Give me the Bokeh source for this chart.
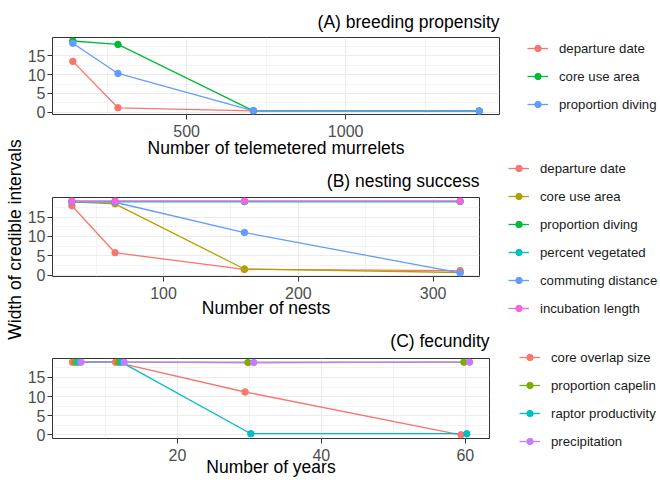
import math
from bokeh.plotting import figure
from bokeh.models import Range1d, FixedTicker, Legend, LegendItem, Label, ColumnDataSource
from bokeh.layouts import column, row
from bokeh.transform import dodge
from bokeh.embed import file_html
from bokeh.resources import INLINE

FONT = "Liberation Sans"

# ---------------- data ----------------
# (A) breeding propensity
a_x = [142, 284, 710, 1420]
a_names = ["departure date", "core use area", "proportion diving"]
a_departure_date = [13.5, 1.2, 0.4, 0.35]
a_core_use_area = [18.9, 18.0, 0.4, 0.35]
a_proportion_diving = [18.3, 10.3, 0.4, 0.35]
a_colors = ["#F8766D", "#00BA38", "#619CFF"]
a_xticks = [500, 1000]
a_xminor = [250, 750, 1250]

# (B) nesting success
b_x = [32, 64, 160, 320]
b_names = ["departure date", "core use area", "proportion diving",
           "percent vegetated", "commuting distance", "incubation length"]
b_departure_date = [17.9, 5.8, 1.5, 1.2]
b_core_use_area = [18.9, 18.4, 1.6, 0.7]
b_proportion_diving = [19.0, 19.0, 19.0, 19.0]
b_percent_vegetated = [19.0, 19.0, 19.0, 19.0]
b_commuting_distance = [19.0, 18.8, 11.0, 0.6]
b_incubation_length = [19.1, 19.1, 19.1, 19.1]
b_colors = ["#F8766D", "#B79F00", "#00BA38", "#00BFC4", "#619CFF", "#F564E3"]
b_xticks = [100, 200, 300]
b_xminor = [50, 150, 250]

# (C) fecundity
c_x = [6, 12, 30, 60]
c_names = ["core overlap size", "proportion capelin", "raptor productivity", "precipitation"]
c_core_overlap_size = [19.0, 19.0, 11.2, 0.0]
c_proportion_capelin = [19.0, 19.0, 18.9, 19.0]
c_raptor_productivity = [19.0, 19.0, 0.3, 0.3]
c_precipitation = [19.0, 19.0, 18.9, 19.0]
c_colors = ["#F8766D", "#7CAE00", "#00BFC4", "#C77CFF"]
c_xticks = [20, 40, 60]
c_xminor = [10, 30, 50]

y_ticks = [0, 5, 10, 15]
y_minor = [2.5, 7.5, 12.5, 17.5]

TICK_SIZE = "16px"
AXTITLE_SIZE = "17.5px"
LEG_SIZE = "13.2px"


def panel(title, xlabel, xs, names, series, colors, xticks, xminor,
          width, height, b_top, b_bottom, title_standoff, ax_label_standoff, dodge_width=0.0):
    n = len(series)
    offs = [(-dodge_width / 2 + dodge_width * i / (n - 1)) if n > 1 else 0 for i in range(n)]
    xlo, xhi = min(xs) + min(offs), max(xs) + max(offs)
    xpad = 0.05 * (xhi - xlo)
    allv = [v for s in series for v in s]
    ylo, yhi = min(allv), max(allv)
    ypad = 0.05 * (yhi - ylo)
    p = figure(width=width, height=height, output_backend="svg", toolbar_location=None,
               x_range=Range1d(xlo - xpad, xhi + xpad), y_range=Range1d(ylo - ypad, yhi + ypad),
               min_border_left=25, min_border_right=1, min_border_top=b_top,
               min_border_bottom=b_bottom, title=title, title_location="above",
               frame_align=False)
    p.border_fill_color = None
    p.background_fill_color = "white"
    p.outline_line_color = "#333333"
    p.outline_line_width = 1
    p.title.align = "right"
    p.title.text_font = FONT
    p.title.text_font_size = AXTITLE_SIZE
    p.title.text_font_style = "normal"
    p.title.text_color = "#000000"
    p.title.standoff = title_standoff

    p.xaxis.ticker = FixedTicker(ticks=xticks, minor_ticks=xminor)
    p.yaxis.ticker = FixedTicker(ticks=y_ticks, minor_ticks=y_minor)
    for ax in (p.xaxis[0], p.yaxis[0]):
        ax.axis_line_color = None
        ax.major_tick_line_color = "#333333"
        ax.major_tick_out = 5
        ax.major_tick_in = 0
        ax.minor_tick_line_color = None
        ax.major_label_text_font = FONT
        ax.major_label_text_font_size = TICK_SIZE
        ax.major_label_text_color = "#4D4D4D"
        ax.major_label_standoff = 2
    p.xaxis.major_label_standoff = 5
    p.xaxis.axis_label = xlabel
    p.xaxis.axis_label_text_font = FONT
    p.xaxis.axis_label_text_font_size = AXTITLE_SIZE
    p.xaxis.axis_label_text_font_style = "normal"
    p.xaxis.axis_label_text_color = "#000000"
    p.xaxis.axis_label_standoff = ax_label_standoff
    for g in (p.xgrid[0], p.ygrid[0]):
        g.grid_line_color = "#EBEBEB"
        g.grid_line_width = 1
        g.minor_grid_line_color = "#EBEBEB"
        g.minor_grid_line_width = 0.6

    srcs = []
    for i, (vals, col) in enumerate(zip(series, colors)):
        src = ColumnDataSource(dict(x=xs, y=vals))
        xt = dodge("x", offs[i]) if dodge_width else "x"
        p.line(x=xt, y="y", source=src, line_color=col, line_width=1.3)
        srcs.append((src, xt, col))
    for src, xt, col in srcs:
        p.scatter(x=xt, y="y", source=src, size=6.5, fill_color=col, line_color=col)
    return p, [s for s, _, _ in srcs]


def legend_fig(names, colors, sources, width, height, loc):
    # the legend lives in its own canvas beside the panel; its glyph renderers
    # reuse the panel's data, which lies outside this canvas's ranges
    f = figure(width=width, height=height, output_backend="svg", toolbar_location=None,
               x_range=Range1d(0, 1), y_range=Range1d(-2, -1), x_axis_type=None, y_axis_type=None,
               min_border=0, frame_align=False)
    f.outline_line_color = None
    f.border_fill_color = None
    f.background_fill_color = None
    f.grid.visible = False
    items = []
    for name, col, src in zip(names, colors, sources):
        lr = f.line(x="x", y="y", source=src, line_color=col, line_width=1.3)
        pr = f.scatter(x="x", y="y", source=src, size=6.5, fill_color=col, line_color=col)
        items.append(LegendItem(label=name, renderers=[lr, pr]))
    leg = Legend(items=items, location=loc)
    leg.border_line_color = None
    leg.background_fill_alpha = 0
    leg.padding = 0
    leg.margin = 0
    leg.spacing = 12
    leg.glyph_height = 16
    leg.label_height = 16
    leg.glyph_width = 21
    leg.label_standoff = 11
    leg.label_text_font = FONT
    leg.label_text_font_size = LEG_SIZE
    leg.label_text_color = "#1A1A1A"
    f.add_layout(leg)
    return f


pa, sa = panel("(A) breeding propensity", "Number of telemetered murrelets", a_x, a_names,
               [a_departure_date, a_core_use_area, a_proportion_diving], a_colors,
               a_xticks, a_xminor, 476, 160, 37, 45, 11, -2)
pb, sb = panel("(B) nesting success", "Number of nests", b_x, b_names,
               [b_departure_date, b_core_use_area, b_proportion_diving, b_percent_vegetated,
                b_commuting_distance, b_incubation_length], b_colors,
               b_xticks, b_xminor, 456, 160, 37, 43, 13.5, -4)
pc, sc = panel("(C) fecundity", "Number of years", c_x, c_names,
               [c_core_overlap_size, c_proportion_capelin, c_raptor_productivity, c_precipitation],
               c_colors, c_xticks, c_xminor, 466, 159, 38, 40, 16, -7, dodge_width=1.2)

la = legend_fig(a_names, a_colors, sa, 159, 160, (27, 48))
lb = legend_fig(b_names, b_colors, sb, 179, 160, (28, 4))
lc = legend_fig(c_names, c_colors, sc, 169, 159, (29, 30))

# shared y-axis title
lab = figure(width=24, height=479, output_backend="svg", toolbar_location=None,
             x_range=Range1d(0, 24), y_range=Range1d(0, 479), x_axis_type=None, y_axis_type=None,
             min_border=0, frame_align=False)
lab.outline_line_color = None
lab.border_fill_color = None
lab.background_fill_color = None
lab.grid.visible = False
lab.add_layout(Label(x=14.2, y=240, text="Width of credible intervals", angle=math.pi / 2,
                     text_align="center", text_baseline="middle", text_font=FONT,
                     text_font_size=AXTITLE_SIZE, text_color="#000000"))

layout = row(lab, column(row(pa, la), row(pb, lb), row(pc, lc)))
open("out.html", "w").write(file_html(layout, INLINE))
